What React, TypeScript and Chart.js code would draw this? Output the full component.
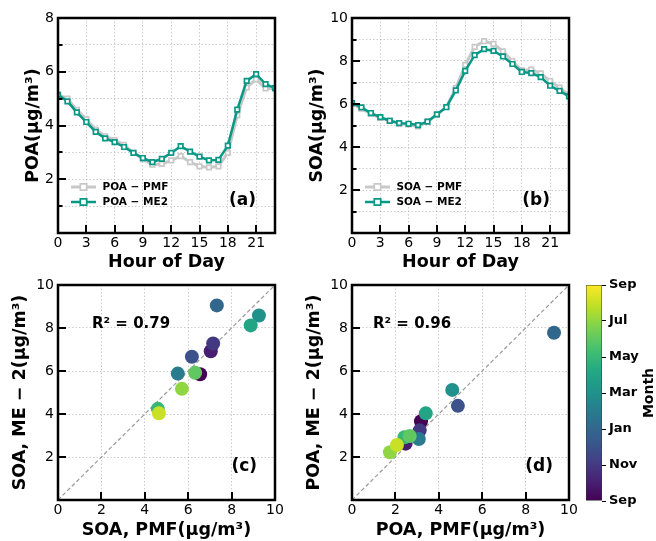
import React, { useEffect, useRef } from "react";
import { Chart, registerables } from "chart.js";

Chart.register(...registerables);

const FONT = "DejaVu Sans";
const TEAL = "#0a9886";
const GREY = "#c8c8c8";
const VIRIDIS = ["#440154", "#482475", "#414487", "#355f8d", "#2a788e", "#21918c", "#22a884", "#44bf70", "#7ad151", "#bddf26", "#fde725"];

// ---------- data ----------
const hours = [0, 1, 2, 3, 4, 5, 6, 7, 8, 9, 10, 11, 12, 13, 14, 15, 16, 17, 18, 19, 20, 21, 22, 23];
const poaPMF = [5.15, 5.0, 4.58, 4.24, 3.84, 3.6, 3.46, 3.28, 2.98, 2.75, 2.54, 2.57, 2.7, 2.86, 2.64, 2.48, 2.44, 2.48, 2.98, 4.38, 5.42, 5.72, 5.38, 5.38];
const poaME2 = [5.14, 4.9, 4.49, 4.13, 3.76, 3.52, 3.38, 3.2, 2.98, 2.79, 2.64, 2.76, 2.98, 3.23, 3.03, 2.84, 2.7, 2.72, 3.25, 4.59, 5.66, 5.91, 5.54, 5.39];
const soaPMF = [6.02, 5.78, 5.55, 5.35, 5.23, 5.09, 5.05, 4.96, 5.18, 5.5, 5.86, 6.74, 7.82, 8.66, 8.92, 8.8, 8.45, 8.0, 7.56, 7.6, 7.42, 7.07, 6.76, 6.42];
const soaME2 = [6.04, 5.84, 5.58, 5.39, 5.22, 5.11, 5.08, 5.02, 5.18, 5.52, 5.85, 6.63, 7.54, 8.27, 8.55, 8.47, 8.21, 7.86, 7.49, 7.44, 7.25, 6.85, 6.61, 6.35];

// months: 0 = Sep, 1 = Oct, ..., 11 = Aug
const months = [0, 1, 2, 3, 4, 5, 6, 7, 8, 9, 10, 11];
const monthTickLabels = ["Sep", "Nov", "Jan", "Mar", "May", "Jul", "Sep"];
const monthRange = [0, 12];
const soaPmfMonthly = [6.55, 7.04, 7.15, 6.17, 7.32, 5.52, 9.26, 8.88, 4.6, 6.32, 5.71, 4.65];
const soaMe2Monthly = [5.85, 6.92, 7.28, 6.66, 9.05, 5.88, 8.58, 8.12, 4.24, 5.92, 5.17, 4.03];
const poaPmfMonthly = [3.18, 2.47, 3.12, 4.88, 9.31, 3.08, 4.62, 3.4, 2.42, 2.66, 1.75, 2.07];
const poaMe2Monthly = [3.66, 2.62, 3.24, 4.38, 7.78, 2.84, 5.12, 4.03, 2.92, 2.98, 2.22, 2.56];
const oneToOne = [0, 10];
const r2Soa = "0.79";
const r2Poa = "0.96";

// ---------- helpers ----------
function hexToRgb(h: string) {
  return [parseInt(h.slice(1, 3), 16), parseInt(h.slice(3, 5), 16), parseInt(h.slice(5, 7), 16)];
}
function viridis(t: number) {
  const tt = Math.max(0, Math.min(1, t)) * (VIRIDIS.length - 1);
  const i = Math.min(VIRIDIS.length - 2, Math.floor(tt));
  const f = tt - i;
  const a = hexToRgb(VIRIDIS[i]);
  const b = hexToRgb(VIRIDIS[i + 1]);
  const c = a.map((v, k) => Math.round(v + (b[k] - v) * f));
  return `rgb(${c[0]},${c[1]},${c[2]})`;
}

type Box = { x: number; y: number; w: number; h: number };
type Rect = { l: number; t: number; r: number; b: number };
type Txt = (ctx: CanvasRenderingContext2D, chart: any) => void;

function hText(ctx: CanvasRenderingContext2D, text: string, x: number, y: number, size: number, align: CanvasTextAlign = "left", bold = true) {
  ctx.save();
  ctx.font = `${bold ? "bold " : ""}${size}px "${FONT}"`;
  ctx.fillStyle = "#000";
  ctx.textAlign = align;
  ctx.textBaseline = "alphabetic";
  ctx.fillText(text, x, y);
  ctx.restore();
}
function vText(ctx: CanvasRenderingContext2D, text: string, x: number, y: number, size: number) {
  ctx.save();
  ctx.translate(x, y);
  ctx.rotate(-Math.PI / 2);
  ctx.font = `bold ${size}px "${FONT}"`;
  ctx.fillStyle = "#000";
  ctx.textAlign = "center";
  ctx.textBaseline = "alphabetic";
  ctx.fillText(text, 0, 0);
  ctx.restore();
}

function decorPlugin(box: Box, texts: Txt[]) {
  return {
    id: "decor",
    afterDraw(chart: any) {
      const ctx = chart.ctx as CanvasRenderingContext2D;
      const { left, top, right, bottom } = chart.chartArea;
      const xs = chart.scales.x;
      const ys = chart.scales.y;
      ctx.save();
      ctx.strokeStyle = "#000";
      ctx.lineWidth = 2;
      ctx.beginPath();
      for (const t of xs.ticks) {
        if (t.value <= xs.min || t.value >= xs.max) continue;
        const px = Math.round(xs.getPixelForValue(t.value));
        ctx.moveTo(px, bottom);
        ctx.lineTo(px, bottom - 8);
      }
      for (const t of ys.ticks) {
        if (t.value <= ys.min || t.value >= ys.max) continue;
        const py = Math.round(ys.getPixelForValue(t.value));
        const len = t.label ? 8 : 4.5;
        ctx.moveTo(left, py);
        ctx.lineTo(left + len, py);
      }
      ctx.stroke();
      ctx.lineWidth = 2.5;
      ctx.strokeRect(left, top, right - left, bottom - top);
      ctx.translate(-box.x, -box.y);
      texts.forEach((f) => f(ctx, chart));
      ctx.restore();
    },
  };
}

function axis(kind: "x" | "y", min: number, max: number, step: number, fmt: (v: number) => string, fit: number) {
  return {
    type: "linear",
    min,
    max,
    ticks: {
      stepSize: step,
      includeBounds: false,
      autoSkip: false,
      maxRotation: 0,
      padding: kind === "x" ? 2 : 4,
      color: "#000",
      font: { family: FONT, size: 14 },
      callback: (v: number) => fmt(v),
    },
    grid: { color: "rgba(150,150,150,0.6)", lineWidth: 0.8, drawTicks: false },
    border: { display: false, dash: [1.5, 2] },
    afterFit: (s: any) => {
      if (kind === "x") s.height = fit;
      else s.width = fit;
    },
  };
}

function baseOptions(box: Box, plot: Rect, xAxis: any, yAxis: any) {
  return {
    responsive: false,
    maintainAspectRatio: false,
    animation: false,
    devicePixelRatio: 1,
    events: [],
    layout: { padding: { left: 0, top: plot.t - box.y, right: box.x + box.w - plot.r, bottom: 0 } },
    plugins: { legend: { display: false }, tooltip: { enabled: false }, title: { display: false } },
    scales: { x: xAxis, y: yAxis },
  };
}

// ---------- panels ----------
type LineSpec = {
  box: Box; plot: Rect; yMax: number; pmf: number[]; me2: number[]; names: string[];
  yTitle: string; yTitleX: number; label: string;
};
type ScatterSpec = {
  box: Box; plot: Rect; xs: number[]; ys: number[]; yTitle: string; yTitleX: number;
  xTitle: string; r2: string; r2X: number; label: string; labelR: number;
};

function makeLine(canvas: HTMLCanvasElement, s: LineSpec) {
  const { box, plot } = s;
  const evenLabel = (v: number) => (v > 0 && v % 2 === 0 ? String(v) : "");
  const xAxis = axis("x", 0, 23, 3, (v) => String(v), box.y + box.h - plot.b);
  const yAxis = axis("y", 0, s.yMax, 1, evenLabel, plot.l - box.x);
  const styles = [
    { color: TEAL, width: 2.5 },
    { color: GREY, width: 3 },
  ];
  const texts: Txt[] = [
    (ctx) => vText(ctx, s.yTitle, s.yTitleX, (plot.t + plot.b) / 2, 17.5),
    (ctx) => hText(ctx, "Hour of Day", (plot.l + plot.r) / 2, 266.5, 17.5, "center"),
    (ctx) => hText(ctx, s.label, plot.r - 19, plot.b - 28, 17, "right"),
    (ctx) => {
      // legend
      const rows = [
        { name: s.names[0], st: styles[1], y: plot.t + 169 },
        { name: s.names[1], st: styles[0], y: plot.t + 184 },
      ];
      rows.forEach((r) => {
        const x0 = plot.l + 13, x1 = plot.l + 38, xm = (x0 + x1) / 2;
        ctx.save();
        ctx.strokeStyle = r.st.color;
        ctx.lineWidth = r.st.width;
        ctx.beginPath();
        ctx.moveTo(x0, r.y);
        ctx.lineTo(x1, r.y);
        ctx.stroke();
        ctx.fillStyle = "#fff";
        ctx.lineWidth = 1.7;
        ctx.beginPath();
        ctx.rect(xm - 3.2, r.y - 3.2, 6.4, 6.4);
        ctx.fill();
        ctx.stroke();
        ctx.restore();
        ctx.save();
        ctx.font = `bold 10.5px "${FONT}"`;
        ctx.fillStyle = "#000";
        ctx.textBaseline = "middle";
        ctx.fillText(r.name, plot.l + 44.5, r.y + 0.5);
        ctx.restore();
      });
    },
  ];
  const mk = (vals: number[], st: { color: string; width: number }) => ({
    data: hours.map((h, i) => ({ x: h, y: vals[i] })),
    borderColor: st.color,
    borderWidth: st.width,
    backgroundColor: st.color,
    pointStyle: "rect",
    pointRadius: 3.2,
    pointBackgroundColor: "#fff",
    pointBorderColor: st.color,
    pointBorderWidth: 1.7,
    tension: 0,
    fill: false,
  });
  return new Chart(canvas, {
    type: "line",
    data: { datasets: [mk(s.me2, styles[0]), mk(s.pmf, styles[1])] as any },
    options: baseOptions(box, plot, xAxis, yAxis) as any,
    plugins: [decorPlugin(box, texts)],
  });
}

function makeScatter(canvas: HTMLCanvasElement, s: ScatterSpec) {
  const { box, plot } = s;
  const xAxis = axis("x", 0, 10, 2, (v) => String(v), box.y + box.h - plot.b);
  const yAxis = axis("y", 0, 10, 2, (v) => (v > 0 ? String(v) : ""), plot.l - box.x);
  const texts: Txt[] = [
    (ctx) => vText(ctx, s.yTitle, s.yTitleX, (plot.t + plot.b) / 2, 17.5),
    (ctx) => hText(ctx, s.xTitle, (plot.l + plot.r) / 2, 535, 17.5, "center"),
    (ctx) => hText(ctx, `R\u00b2 = ${s.r2}`, s.r2X, 328, 15, "left"),
    (ctx) => hText(ctx, s.label, s.labelR, plot.b - 29, 17, "right"),
  ];
  return new Chart(canvas, {
    type: "scatter",
    data: {
      datasets: [
        {
          data: s.xs.map((x, i) => ({ x, y: s.ys[i] })),
          pointRadius: 7,
          pointHoverRadius: 7,
          pointBackgroundColor: months.map((m) => viridis(m / (monthRange[1] - monthRange[0]))),
          pointBorderWidth: 0,
        },
        {
          data: oneToOne.map((v) => ({ x: v, y: v })),
          showLine: true,
          borderColor: "#9a9a9a",
          borderWidth: 1.2,
          borderDash: [4, 2.5],
          pointRadius: 0,
        },
      ] as any,
    },
    options: baseOptions(box, plot, xAxis, yAxis) as any,
    plugins: [decorPlugin(box, texts)],
  });
}

function makeColorbar(canvas: HTMLCanvasElement, box: Box, plot: Rect) {
  return new Chart(canvas, {
    type: "bar",
    data: {
      labels: ["Month"],
      datasets: [
        {
          data: [monthRange as any],
          backgroundColor: (c: any) => {
            const ca = c.chart.chartArea;
            if (!ca) return VIRIDIS[5];
            const g = c.chart.ctx.createLinearGradient(0, ca.bottom, 0, ca.top);
            VIRIDIS.forEach((col, i) => g.addColorStop(i / (VIRIDIS.length - 1), col));
            return g;
          },
          borderColor: "#333",
          borderWidth: 0.8,
          borderSkipped: false,
          categoryPercentage: 1,
          barPercentage: 1,
        },
      ],
    },
    options: {
      responsive: false,
      animation: false,
      devicePixelRatio: 1,
      events: [],
      layout: { padding: { left: plot.l - box.x, top: plot.t - box.y, bottom: box.y + box.h - plot.b, right: 0 } },
      plugins: { legend: { display: false }, tooltip: { enabled: false } },
      scales: {
        x: { display: false },
        y: {
          position: "right",
          min: monthRange[0],
          max: monthRange[1],
          ticks: {
            stepSize: 2,
            autoSkip: false,
            padding: 3,
            color: "#000",
            font: { family: FONT, size: 13, weight: "bold" },
            callback: (v: number) => monthTickLabels[Math.round(v / 2)] ?? "",
          },
          grid: { drawOnChartArea: false, drawTicks: true, tickLength: 4, color: "#000", lineWidth: 1 },
          border: { display: false },
          afterFit: (s: any) => {
            s.width = box.x + box.w - plot.r;
          },
        },
      },
    } as any,
    plugins: [
      {
        id: "cbtitle",
        afterDraw(chart: any) {
          const ctx = chart.ctx as CanvasRenderingContext2D;
          ctx.save();
          ctx.translate(-box.x, -box.y);
          vText(ctx, "Month", 653, (plot.t + plot.b) / 2, 14);
          ctx.restore();
        },
      },
    ],
  });
}

function ChartBox({ box, make }: { box: Box; make: (c: HTMLCanvasElement) => Chart }) {
  const ref = useRef<HTMLCanvasElement>(null);
  useEffect(() => {
    const chart = make(ref.current!);
    return () => chart.destroy();
  }, []);
  return (
    <canvas
      ref={ref}
      width={box.w}
      height={box.h}
      style={{ position: "absolute", left: box.x, top: box.y, width: box.w, height: box.h }}
    />
  );
}

const specA: LineSpec = {
  box: { x: 0, y: 0, w: 300, h: 272 }, plot: { l: 58, t: 18, r: 275, b: 233 }, yMax: 8,
  pmf: poaPMF, me2: poaME2, names: ["POA \u2212 PMF", "POA \u2212 ME2"],
  yTitle: "POA(\u03bcg/m\u00b3)", yTitleX: 38, label: "(a)",
};
const specB: LineSpec = {
  box: { x: 294, y: 0, w: 300, h: 272 }, plot: { l: 352, t: 18, r: 569, b: 233 }, yMax: 10,
  pmf: soaPMF, me2: soaME2, names: ["SOA \u2212 PMF", "SOA \u2212 ME2"],
  yTitle: "SOA(\u03bcg/m\u00b3)", yTitleX: 322, label: "(b)",
};
const specC: ScatterSpec = {
  box: { x: 0, y: 270, w: 300, h: 271 }, plot: { l: 58, t: 285, r: 275, b: 500 },
  xs: soaPmfMonthly, ys: soaMe2Monthly, yTitle: "SOA, ME \u2212 2(\u03bcg/m\u00b3)", yTitleX: 25,
  xTitle: "SOA, PMF(\u03bcg/m\u00b3)", r2: r2Soa, r2X: 92, label: "(c)", labelR: 257,
};
const specD: ScatterSpec = {
  box: { x: 294, y: 270, w: 290, h: 271 }, plot: { l: 352, t: 285, r: 569, b: 500 },
  xs: poaPmfMonthly, ys: poaMe2Monthly, yTitle: "POA, ME \u2212 2(\u03bcg/m\u00b3)", yTitleX: 319,
  xTitle: "POA, PMF(\u03bcg/m\u00b3)", r2: r2Poa, r2X: 373, label: "(d)", labelR: 553,
};
const cbBox: Box = { x: 580, y: 270, w: 76, h: 271 };
const cbPlot: Rect = { l: 586, t: 285, r: 602, b: 501 };

export default function App() {
  return (
    <div style={{ position: "fixed", left: 0, top: 0, width: 656, height: 541, background: "#fff", overflow: "hidden" }}>
      <ChartBox box={specA.box} make={(c) => makeLine(c, specA)} />
      <ChartBox box={specB.box} make={(c) => makeLine(c, specB)} />
      <ChartBox box={specC.box} make={(c) => makeScatter(c, specC)} />
      <ChartBox box={specD.box} make={(c) => makeScatter(c, specD)} />
      <ChartBox box={cbBox} make={(c) => makeColorbar(c, cbBox, cbPlot)} />
    </div>
  );
}
